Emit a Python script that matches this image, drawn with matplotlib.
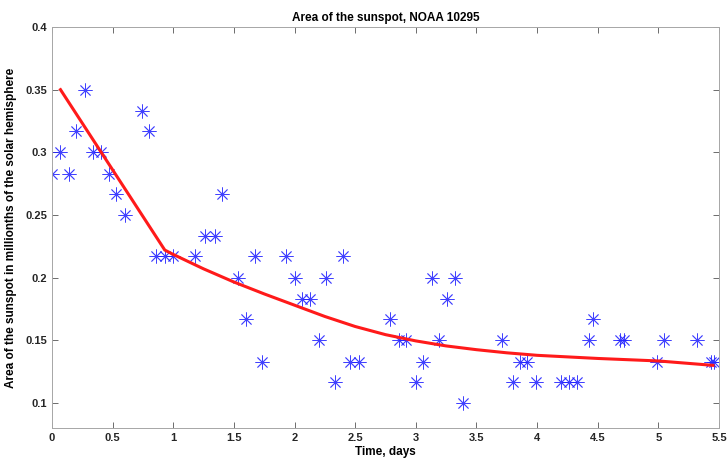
import matplotlib
matplotlib.use("Agg")
import matplotlib.pyplot as plt
from matplotlib.ticker import FuncFormatter

plt.rcParams['font.family'] = ['Liberation Sans', 'DejaVu Sans']

# observed data (days, area)
obs_t = [0.0, 0.07, 0.14, 0.2, 0.27, 0.34, 0.4, 0.47, 0.53, 0.6, 0.74, 0.8,
         0.86, 0.93, 1.0, 1.18, 1.26, 1.34, 1.4, 1.53, 1.6, 1.67, 1.73,
         1.93, 2.0, 2.06, 2.13, 2.2, 2.26, 2.33, 2.4, 2.46, 2.53,
         2.79, 2.86, 2.92, 3.0, 3.06, 3.13, 3.19, 3.26, 3.32, 3.39,
         3.71, 3.8, 3.86, 3.92, 3.99, 4.2, 4.26, 4.33, 4.43, 4.46,
         4.68, 4.72, 4.99, 5.05, 5.32, 5.43, 5.46]
obs_a = [0.283, 0.3, 0.283, 0.317, 0.35, 0.3, 0.3, 0.283, 0.267, 0.25, 0.333, 0.317,
         0.217, 0.217, 0.217, 0.217, 0.233, 0.233, 0.267, 0.2, 0.167, 0.217, 0.133,
         0.217, 0.2, 0.183, 0.183, 0.15, 0.2, 0.117, 0.217, 0.133, 0.133,
         0.167, 0.15, 0.15, 0.117, 0.133, 0.2, 0.15, 0.183, 0.2, 0.1,
         0.15, 0.117, 0.133, 0.133, 0.117, 0.117, 0.117, 0.117, 0.15, 0.167,
         0.15, 0.15, 0.133, 0.15, 0.15, 0.133, 0.133]

# fitted curve
fit_t = [0.07, 0.93, 1.0, 1.25, 1.5, 1.75, 2.0, 2.25, 2.5, 2.75, 3.0, 3.25, 3.5,
         3.75, 4.0, 4.5, 5.0, 5.45]
fit_a = [0.35, 0.222, 0.2185, 0.207, 0.1965, 0.187, 0.178, 0.169, 0.161, 0.1545, 0.1495,
         0.1455, 0.1425, 0.140, 0.138, 0.1355, 0.1335, 0.130]

xticks = [0, 0.5, 1, 1.5, 2, 2.5, 3, 3.5, 4, 4.5, 5, 5.5]
yticks = [0.1, 0.15, 0.2, 0.25, 0.3, 0.35, 0.4]

fig = plt.figure(figsize=(7.28, 4.61), dpi=100)
ax = fig.add_axes([52/728, 1-428/461, (719-52)/728, (428-27)/461])

ax.plot(obs_t, obs_a, linestyle='none', marker=(8, 2, 0), markersize=10,
        markeredgewidth=0.6, color='#2020ff', alpha=0.85)
ax.plot(fit_t, fit_a, color='#ff1a1a', linewidth=2.2, solid_joinstyle='round')

ax.set_xlim(0, 5.5)
ax.set_ylim(0.08, 0.4)
ax.set_xticks(xticks)
ax.set_yticks(yticks)
fmt = FuncFormatter(lambda v, p: ('%g' % v))
ax.xaxis.set_major_formatter(fmt)
ax.yaxis.set_major_formatter(fmt)

ax.tick_params(direction='in', top=True, right=True, length=4, width=0.6,
               colors='#555555', labelcolor='#262626', labelsize=8)
for lab in ax.get_xticklabels() + ax.get_yticklabels():
    lab.set_fontweight('bold')
for s in ax.spines.values():
    s.set_color('#a6a6a6')
    s.set_linewidth(0.7)

ax.set_title('Area of the sunspot, NOAA 10295', fontsize=8.5, fontweight='bold', pad=4)
ax.set_xlabel('Time, days', fontsize=8.5, fontweight='bold', labelpad=2)
ax.set_ylabel('Area of the sunspot in millionths of the solar hemisphere',
              fontsize=8.5, fontweight='bold', labelpad=6)

fig.savefig('out.png', dpi=100)
